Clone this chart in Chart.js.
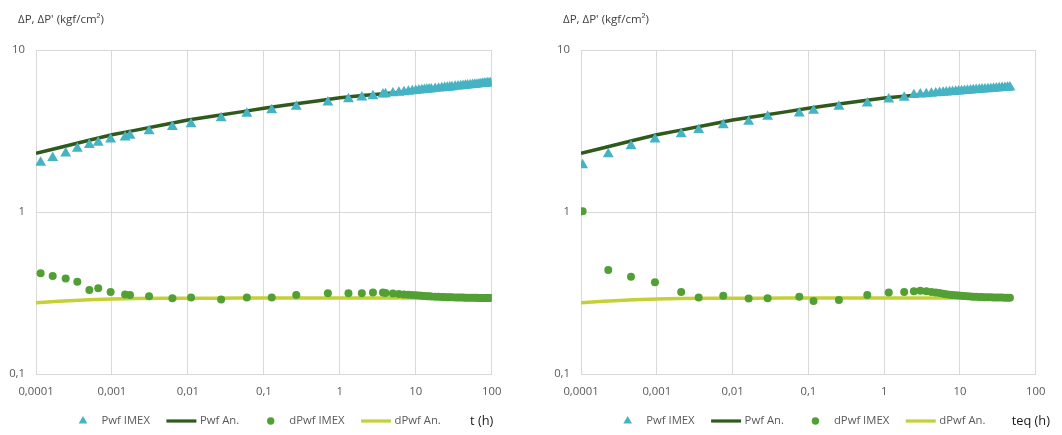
<!DOCTYPE html>
<html><head><meta charset="utf-8">
<script src="https://cdn.jsdelivr.net/npm/chart.js@4.4.1/dist/chart.umd.min.js"></script>
<style>
html,body{margin:0;padding:0;background:#fff;}
#wrap{position:relative;width:1062px;height:435px;overflow:hidden;background:#fff}
.box{position:absolute;top:0;height:435px}
#b1{left:0;width:530px}
#b2{left:530px;width:532px}
canvas{display:block}
</style></head><body>
<div id="wrap">
  <div class="box" id="b1"><canvas id="c1" width="530" height="435"></canvas></div>
  <div class="box" id="b2"><canvas id="c2" width="532" height="435"></canvas></div>
</div>
<script>
// ---------- axis ticks / labels ----------
const xTickValues = [0.0001, 0.001, 0.01, 0.1, 1, 10, 100];
const xTickLabels = ['0,0001', '0,001', '0,01', '0,1', '1', '10', '100'];
const yTickValues = [0.1, 1, 10];
const yTickLabels = ['0,1', '1', '10'];
const seriesNames = ['Pwf IMEX', 'Pwf An.', 'dPwf IMEX', 'dPwf An.'];
const yAxisTitle = "ΔP, ΔP' (kgf/cm²)";
const xTitleLeft = 't (h)';
const xTitleRight = 'teq (h)';

// ---------- left chart (t) ----------
const tImexL = [0.000115, 0.000166, 0.000246, 0.00035, 0.000504, 0.00066, 0.00096, 0.00149, 0.00173, 0.00308,
  0.00625, 0.011, 0.0274, 0.0597, 0.127, 0.267, 0.697, 1.30, 1.95, 2.73, 3.70,
  4, 5, 6, 7, 8, 9, 10, 11, 12, 13, 14, 15, 16, 18, 20, 22, 24, 26, 28, 30, 33, 36, 39, 42, 45, 48,
  52, 56, 60, 64, 68, 72, 76, 80, 84, 88, 92, 96];
const pwfImexL = [2.02, 2.16, 2.30, 2.46, 2.60, 2.68, 2.81, 2.89, 2.96, 3.16,
  3.36, 3.49, 3.80, 4.05, 4.26, 4.47, 4.75, 4.98, 5.11, 5.20, 5.33,
  5.35, 5.41, 5.46, 5.50, 5.54, 5.57, 5.60, 5.63, 5.65, 5.67, 5.69, 5.71, 5.73, 5.77, 5.79, 5.82, 5.85, 5.87, 5.89, 5.91, 5.94, 5.96, 5.99, 6.01, 6.03, 6.05,
  6.07, 6.09, 6.11, 6.13, 6.15, 6.17, 6.18, 6.20, 6.21, 6.23, 6.24, 6.26];
const dpwfImexL = [0.418, 0.403, 0.388, 0.371, 0.330, 0.338, 0.321, 0.310, 0.307, 0.302,
  0.293, 0.297, 0.288, 0.297, 0.297, 0.307, 0.315, 0.315, 0.315, 0.319, 0.318,
  0.316, 0.314, 0.312, 0.310, 0.308, 0.307, 0.306, 0.305, 0.304, 0.303, 0.302, 0.302, 0.301, 0.300, 0.300, 0.299, 0.299, 0.298, 0.298, 0.298, 0.297, 0.297, 0.297, 0.297, 0.296, 0.296,
  0.296, 0.296, 0.296, 0.296, 0.295, 0.295, 0.295, 0.295, 0.295, 0.295, 0.295, 0.295];
const tAnL = [0.0001, 0.0002, 0.0005, 0.001, 0.002, 0.005, 0.01, 0.02, 0.05, 0.1, 0.2, 0.5, 1, 2, 5, 10, 20, 50, 96];
const pwfAnL = [2.30, 2.49, 2.77, 3.00, 3.19, 3.47, 3.70, 3.89, 4.15, 4.37, 4.57, 4.85, 5.08, 5.23, 5.43, 5.60, 5.79, 6.05, 6.26];
const dpwfAnL = [0.275, 0.281, 0.287, 0.290, 0.292, 0.293, 0.294, 0.294, 0.295, 0.295, 0.295, 0.295, 0.295, 0.295, 0.295, 0.295, 0.295, 0.295, 0.295];

// ---------- right chart (teq) ----------
const tImexR = [0.000105, 0.000229, 0.000457, 0.000946, 0.0021, 0.00357, 0.00754, 0.0163, 0.029, 0.0759,
  0.117, 0.253, 0.599, 1.15, 1.84, 2.47,
  3.0, 3.6, 4.2, 4.8, 5.4, 6.0, 6.6, 7.3, 8.0, 8.8, 9.6, 10.5, 11.5, 12.6, 13.8, 15.0, 16.4, 18.0, 19.6,
  21.4, 23.4, 25.5, 27.8, 30.3, 33.0, 36.0, 39.2, 42.5, 45.7];
const pwfImexR = [1.95, 2.28, 2.55, 2.81, 3.03, 3.21, 3.44, 3.61, 3.88, 4.07,
  4.22, 4.47, 4.69, 4.96, 5.08, 5.28,
  5.32, 5.35, 5.38, 5.41, 5.44, 5.46, 5.48, 5.50, 5.52, 5.54, 5.56, 5.57, 5.59, 5.61, 5.63, 5.65, 5.67, 5.69, 5.71,
  5.73, 5.74, 5.76, 5.78, 5.80, 5.82, 5.84, 5.85, 5.87, 5.89];
const dpwfImexR = [1.01, 0.438, 0.399, 0.368, 0.321, 0.297, 0.304, 0.292, 0.294, 0.300,
  0.282, 0.286, 0.307, 0.318, 0.321, 0.324,
  0.326, 0.324, 0.321, 0.318, 0.316, 0.313, 0.311, 0.309, 0.307, 0.306, 0.305, 0.304, 0.303, 0.302, 0.301, 0.300, 0.300, 0.299, 0.299,
  0.298, 0.298, 0.298, 0.297, 0.297, 0.297, 0.297, 0.296, 0.296, 0.296];
const tAnR = [0.0001, 0.0002, 0.0005, 0.001, 0.002, 0.005, 0.01, 0.02, 0.05, 0.1, 0.2, 0.5, 1, 2, 5, 10, 20, 46];
const pwfAnR = [2.30, 2.49, 2.77, 3.00, 3.19, 3.47, 3.70, 3.89, 4.15, 4.37, 4.57, 4.85, 5.06, 5.20, 5.40, 5.56, 5.72, 5.90];
const dpwfAnR = [0.275, 0.281, 0.287, 0.290, 0.292, 0.293, 0.294, 0.294, 0.295, 0.295, 0.295, 0.295, 0.295, 0.295, 0.295, 0.295, 0.295, 0.295];

// ---------- styles ----------
const FAMILY = "'Open Sans', 'Liberation Sans', sans-serif";
const COL = { tri: '#45b3c4', dark: '#2e5a1c', dot: '#52a034', yel: '#c4d136', grid: '#d9d9d9', tick: '#595959', title: '#404040', xt: '#1a1a1a' };

const zip = (xs, ys) => xs.map((x, i) => ({ x: x, y: ys[i] }));
const labelFor = (vals, labels, v) => {
  const i = vals.findIndex(t => Math.abs(Math.log10(t) - Math.log10(v)) < 1e-6);
  return i >= 0 ? labels[i] : '';
};

const overlay = {
  id: 'overlay',
  afterDraw(chart, args, o) {
    const ctx = chart.ctx;
    ctx.save();
    ctx.textBaseline = 'middle';
    ctx.textAlign = 'left';
    // y axis title
    ctx.font = '11.5px ' + FAMILY;
    ctx.fillStyle = COL.title;
    ctx.fillText(yAxisTitle, o.yTitleX, 20);
    // legend
    ctx.font = '11.3px ' + FAMILY;
    let x = o.legendX;
    const y = o.legendY;
    chart.data.datasets.forEach(ds => {
      const cx = x + 15;
      if (ds.showLine) {
        ctx.strokeStyle = ds.borderColor;
        ctx.lineWidth = 3.2;
        ctx.lineCap = 'butt';
        ctx.beginPath(); ctx.moveTo(x, y); ctx.lineTo(x + 30, y); ctx.stroke();
      } else if (ds.pointStyle === 'triangle') {
        const r = 5;
        ctx.fillStyle = ds.backgroundColor;
        ctx.beginPath();
        ctx.moveTo(cx, y - r);
        ctx.lineTo(cx + r * Math.sin(2 * Math.PI / 3), y - r * Math.cos(2 * Math.PI / 3));
        ctx.lineTo(cx - r * Math.sin(2 * Math.PI / 3), y - r * Math.cos(2 * Math.PI / 3));
        ctx.closePath(); ctx.fill();
      } else {
        ctx.fillStyle = ds.backgroundColor;
        ctx.beginPath(); ctx.arc(cx, y, 3.7, 0, Math.PI * 2); ctx.fill();
      }
      x += 30 + 3.5;
      ctx.fillStyle = COL.tick;
      ctx.fillText(ds.label, x, y);
      x += ctx.measureText(ds.label).width + 16.5;
    });
    // x axis title
    ctx.font = '12.8px ' + FAMILY;
    ctx.fillStyle = COL.xt;
    ctx.fillText(o.xTitle, o.xTitleX, y + 0.5);
    ctx.restore();
  }
};

function makeChart(id, d, geo) {
  return new Chart(document.getElementById(id), {
    type: 'scatter',
    data: {
      datasets: [
        { label: seriesNames[0], data: zip(d.t, d.pwf), pointStyle: 'triangle', pointRadius: 6.3, pointHoverRadius: 6.3,
          backgroundColor: COL.tri, borderColor: COL.tri, borderWidth: 0, showLine: false, order: 1 },
        { label: seriesNames[1], data: zip(d.tAn, d.pwfAn), showLine: true, pointRadius: 0, pointHoverRadius: 0,
          borderColor: COL.dark, backgroundColor: COL.dark, borderWidth: 3.5, tension: 0, order: 2 },
        { label: seriesNames[2], data: zip(d.t, d.dpwf), pointStyle: 'circle', pointRadius: 4, pointHoverRadius: 4,
          backgroundColor: COL.dot, borderColor: COL.dot, borderWidth: 0, showLine: false, order: 1 },
        { label: seriesNames[3], data: zip(d.tAn, d.dpwfAn), showLine: true, pointRadius: 0, pointHoverRadius: 0,
          borderColor: COL.yel, backgroundColor: COL.yel, borderWidth: 3.5, tension: 0, order: 2 }
      ]
    },
    options: {
      responsive: false,
      animation: false,
      events: [],
      layout: { padding: { left: 0, right: geo.padRight, top: 50, bottom: 0 } },
      plugins: {
        legend: { display: false },
        tooltip: { enabled: false },
        overlay: geo.overlay
      },
      scales: {
        x: {
          type: 'logarithmic', min: 0.0001, max: 100,
          afterBuildTicks: s => { s.ticks = xTickValues.map(v => ({ value: v, major: true })); },
          afterFit: s => { s.height = 61; },
          grid: { color: COL.grid, lineWidth: 1, drawTicks: false },
          border: { display: true, color: COL.grid, width: 1 },
          ticks: { autoSkip: false, maxRotation: 0, padding: 11, color: COL.tick,
            font: { family: FAMILY, size: 11.3 },
            callback: v => labelFor(xTickValues, xTickLabels, v) }
        },
        y: {
          type: 'logarithmic', min: 0.1, max: 10,
          afterBuildTicks: s => { s.ticks = yTickValues.map(v => ({ value: v, major: true })); },
          afterFit: s => { s.width = geo.yWidth; },
          grid: { color: COL.grid, lineWidth: 1, drawTicks: false },
          border: { display: true, color: COL.grid, width: 1 },
          ticks: { autoSkip: false, padding: 11, color: COL.tick,
            font: { family: FAMILY, size: 11.3 },
            callback: v => labelFor(yTickValues, yTickLabels, v) }
        }
      }
    },
    plugins: [overlay]
  });
}

makeChart('c1',
  { t: tImexL, pwf: pwfImexL, dpwf: dpwfImexL, tAn: tAnL, pwfAn: pwfAnL, dpwfAn: dpwfAnL },
  { yWidth: 36, padRight: 38.3, overlay: { yTitleX: 18, legendX: 68, legendY: 421, xTitle: xTitleLeft, xTitleX: 470 } });
makeChart('c2',
  { t: tImexR, pwf: pwfImexR, dpwf: dpwfImexR, tAn: tAnR, pwfAn: pwfAnR, dpwfAn: dpwfAnR },
  { yWidth: 51, padRight: 26.3, overlay: { yTitleX: 33, legendX: 82.7, legendY: 421, xTitle: xTitleRight, xTitleX: 481.7 } });
</script>
</body></html>
